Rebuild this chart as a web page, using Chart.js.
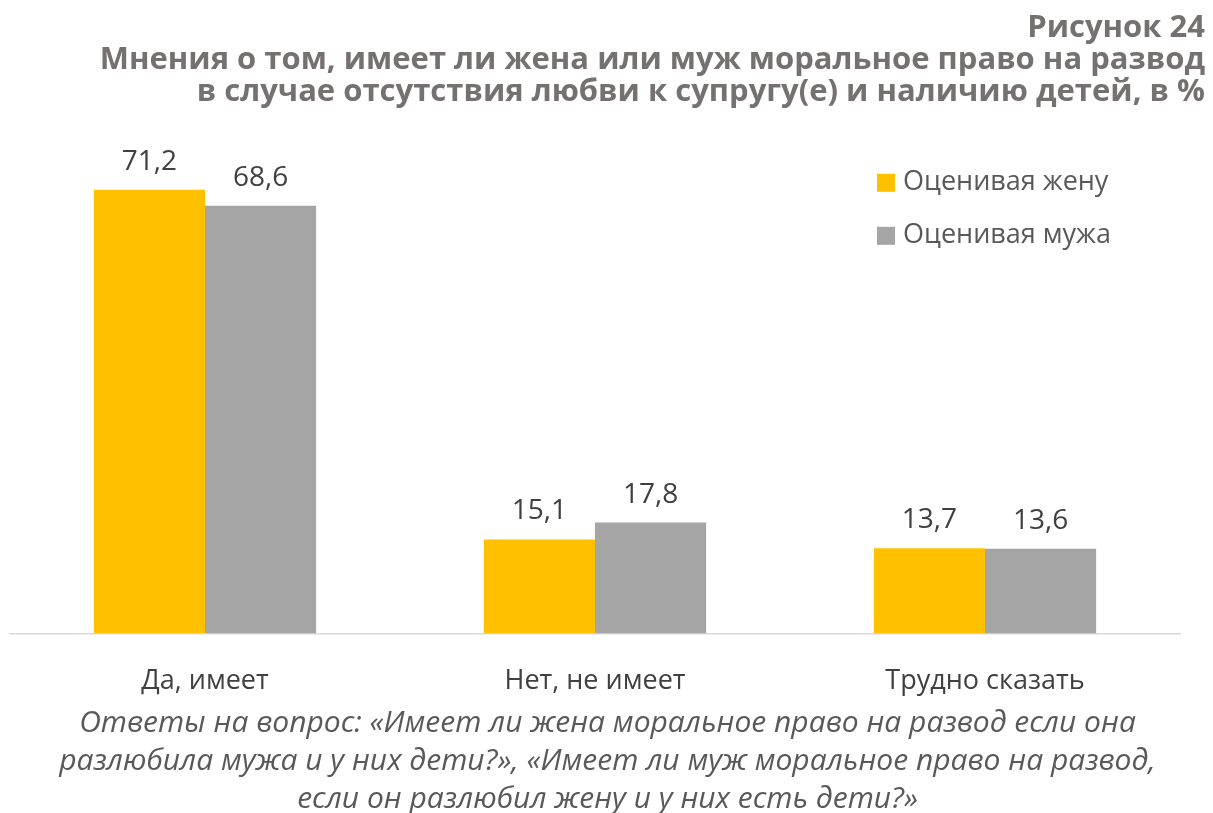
<!DOCTYPE html>
<html>
<head>
<meta charset="utf-8">
<script src="https://cdn.jsdelivr.net/npm/chart.js@4.4.1/dist/chart.umd.min.js"></script>
<style>
    html, body { margin: 0; padding: 0; background: #ffffff; }
    #wrap { width: 1213px; height: 813px; position: relative; }
</style>
</head>
<body>
<div id="wrap"><canvas id="divorceChart"></canvas></div>
<script>
const categories = ["Да, имеет", "Нет, не имеет", "Трудно сказать"];
const wifeValues = [71.2, 15.1, 13.7];
const husbandValues = [68.6, 17.8, 13.6];
const seriesNames = ["Оценивая жену", "Оценивая мужа"];
const titleLines = [
    "Рисунок 24",
    "Мнения о том, имеет ли жена или муж моральное право на развод",
    "в случае отсутствия любви к супругу(е) и наличию детей, в %",
];
const captionLines = [
    "Ответы на вопрос: «Имеет ли жена моральное право на развод если она",
    "разлюбила мужа и у них дети?», «Имеет ли муж моральное право на развод,",
    "если он разлюбил жену и у них есть дети?»",
];

const FONT = "'Open Sans', sans-serif";

// value labels above each bar, decimal comma
const valueLabels = {
    id: "valueLabels",
    afterDatasetsDraw(chart) {
        const ctx = chart.ctx;
        ctx.save();
        ctx.font = "28px " + FONT;
        ctx.fillStyle = "#404040";
        ctx.textAlign = "center";
        ctx.textBaseline = "alphabetic";
        chart.data.datasets.forEach((ds, i) => {
            chart.getDatasetMeta(i).data.forEach((bar, j) => {
                const txt = ds.data[j].toFixed(1).replace(".", ",");
                ctx.fillText(txt, bar.x, bar.y - 20);
            });
        });
        ctx.restore();
    },
};

// legend sitting inside the plot, top right
const insideLegend = {
    id: "insideLegend",
    afterDraw(chart) {
        const ctx = chart.ctx;
        const area = chart.chartArea;
        ctx.save();
        ctx.font = "27px " + FONT;
        ctx.textBaseline = "middle";
        ctx.textAlign = "left";
        chart.data.datasets.forEach((ds, i) => {
            const x = area.right - 303;
            const y = area.top + 48 + i * 53;
            ctx.fillStyle = ds.backgroundColor;
            ctx.fillRect(x, y - 9, 18, 18);
            ctx.fillStyle = "#595959";
            ctx.fillText(ds.label, x + 26, y);
        });
        ctx.restore();
    },
};

let divorceChart;

function plotDivorceChart() {
    let ctx = document.getElementById("divorceChart").getContext("2d");
    divorceChart = new Chart(ctx, {
        type: "bar",
        data: {
            labels: categories,
            datasets: [
                {
                    label: seriesNames[0],
                    data: wifeValues,
                    backgroundColor: "#FFC000", // yellow
                },
                {
                    label: seriesNames[1],
                    data: husbandValues,
                    backgroundColor: "#A5A5A5", // gray
                },
            ],
        },
        options: {
            responsive: true,
            maintainAspectRatio: false,
            animation: false,
            categoryPercentage: 0.57,
            barPercentage: 1.0,
            layout: {
                padding: { left: 10, right: 8, top: 0, bottom: 0 },
            },
            plugins: {
                legend: { display: false },
                tooltip: { enabled: false },
                title: {
                    display: true,
                    text: titleLines,
                    align: "end",
                    color: "#767171",
                    font: { family: FONT, size: 31, weight: "bold", lineHeight: 1.03 },
                    padding: { top: 12, bottom: 27 },
                },
                subtitle: {
                    display: true,
                    position: "bottom",
                    text: captionLines,
                    align: "center",
                    color: "#595959",
                    font: { family: FONT, size: 30, style: "italic", lineHeight: 1.267 },
                    padding: { top: -26, bottom: -5 },
                },
            },
            scales: {
                x: {
                    grid: { display: false, drawTicks: false },
                    border: { display: true, color: "#D9D9D9", width: 1.5 },
                    ticks: {
                        color: "#404040",
                        font: { family: FONT, size: 27 },
                        padding: 32,
                    },
                },
                y: {
                    position: "right",
                    min: 0,
                    max: 80,
                    grid: { display: false, drawTicks: false },
                    border: { display: false },
                    ticks: { display: false },
                    afterFit(scale) {
                        scale.width = 25; // keeps the plot off the right edge
                    },
                },
            },
        },
        plugins: [valueLabels, insideLegend],
    });
}

document.addEventListener("DOMContentLoaded", (event) => {
    plotDivorceChart();
});
</script>
</body>
</html>
